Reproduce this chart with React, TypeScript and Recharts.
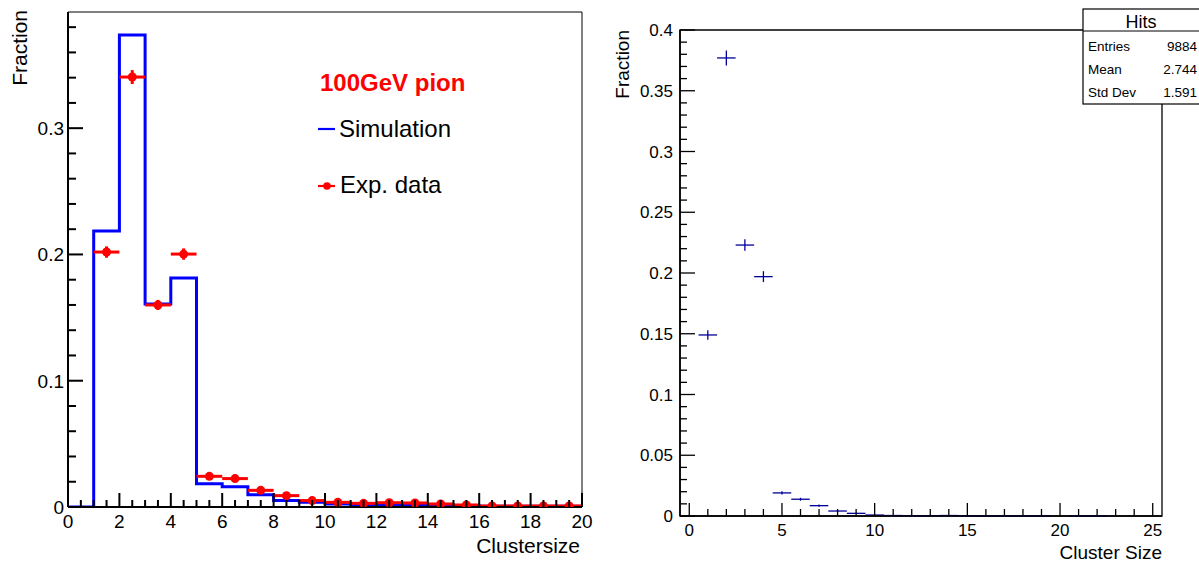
import React from 'react';
import { ComposedChart, Line, Scatter, XAxis, YAxis, ErrorBar, ReferenceArea } from 'recharts';

const FONT = '"Liberation Sans", Arial, Helvetica, sans-serif';

// ---------- Left panel: simulation vs experiment ----------
const simBinLow = [0, 1, 2, 3, 4, 5, 6, 7, 8, 9, 10, 11, 12, 13, 14, 15, 16, 17, 18, 19];
const simValues = [0, 0.2185, 0.3737, 0.1607, 0.1813, 0.0185, 0.0161, 0.0098, 0.0051, 0.0037, 0.0024, 0.002, 0.002, 0.0019, 0.0016, 0.0011, 0.0006, 0.0005, 0.0005, 0.0005];
const simLastEdge = 20;

const expCenters = [1.5, 2.5, 3.5, 4.5, 5.5, 6.5, 7.5, 8.5, 9.5, 10.5, 11.5, 12.5, 13.5, 14.5, 15.5, 16.5, 17.5, 18.5, 19.5];
const expValues = [0.2019, 0.3405, 0.16, 0.2003, 0.0243, 0.0225, 0.0132, 0.009, 0.0051, 0.0037, 0.0029, 0.0034, 0.0032, 0.0024, 0.0016, 0.0008, 0.0008, 0.0008, 0.0008];
const expYErr = [0.0045, 0.0055, 0.004, 0.0045, 0.0015, 0.0015, 0.001, 0.001, 0.0008, 0.0006, 0.0005, 0.0005, 0.0005, 0.0005, 0.0004, 0.0003, 0.0003, 0.0003, 0.0003];
const expXErr = 0.5;

const LEFT_X_DOMAIN = [0, 20];
const LEFT_Y_MAX = 0.392;
const leftXMajor = [0, 2, 4, 6, 8, 10, 12, 14, 16, 18, 20];
const leftXLabels = ['0', '2', '4', '6', '8', '10', '12', '14', '16', '18', '20'];
const leftYMajor = [0, 0.1, 0.2, 0.3];
const leftYLabels = ['0', '0.1', '0.2', '0.3'];
const leftXMinorStep = 0.5;
const leftYMinorStep = 0.02;

// ---------- Right panel: hits ----------
const hitsX = [1, 2, 3, 4, 5, 6, 7, 8, 9, 10, 11, 12, 13, 14, 15, 16, 17, 18, 19, 21, 22];
const hitsValues = [0.149, 0.377, 0.223, 0.197, 0.019, 0.0138, 0.0085, 0.0041, 0.0022, 0.0008, 0.0004, 0.0003, 0.0003, 0.0004, 0.0002, 0.0001, 0.0001, 0.0001, 0.0001, 0.0001, 0.0001];
const hitsYErr = [0.0039, 0.0062, 0.0047, 0.0045, 0.0014, 0.0012, 0.0009, 0.0006, 0.0005, 0.0003, 0.0002, 0.0002, 0.0002, 0.0002, 0.0001, 0.0001, 0.0001, 0.0001, 0.0001, 0.0001, 0.0001];
const hitsXErr = 0.5;

const RIGHT_X_DOMAIN = [-0.5, 25.5];
const RIGHT_Y_MAX = 0.4;
const rightXMajor = [0, 5, 10, 15, 20, 25];
const rightXLabels = ['0', '5', '10', '15', '20', '25'];
const rightYMajor = [0, 0.05, 0.1, 0.15, 0.2, 0.25, 0.3, 0.35, 0.4];
const rightYLabels = ['0', '0.05', '0.1', '0.15', '0.2', '0.25', '0.3', '0.35', '0.4'];
const rightXMinorStep = 1;
const rightYMinorStep = 0.01;

const statsTitle = 'Hits';
const statsNames = ['Entries', 'Mean', 'Std Dev'];
const statsValues = ['9884', '2.744', '1.591'];

// ---------- derived tables ----------
const simStep = simBinLow.map((x, i) => ({ x, y: simValues[i] })).concat([{ x: simLastEdge, y: simValues[simValues.length - 1] }]);
const expData = expCenters.map((x, i) => ({ x, y: expValues[i], ex: expXErr, ey: expYErr[i] }));
const hitsData = hitsX.map((x, i) => ({ x, y: hitsValues[i], ex: hitsXErr, ey: hitsYErr[i] }));

function range(lo: number, hi: number, step: number): number[] {
  const out: number[] = [];
  const n = Math.round((hi - lo) / step);
  for (let i = 0; i <= n; i++) out.push(Math.round((lo + i * step) * 1e6) / 1e6);
  return out;
}
const leftXTicks = range(0, 20, leftXMinorStep);
const leftYTicks = range(0, 0.38, leftYMinorStep);
const rightXTicks = range(0, 25, rightXMinorStep);
const rightYTicks = range(0, 0.4, rightYMinorStep);

function findMajor(majors: number[], v: number) {
  return majors.findIndex((m) => Math.abs(m - v) < 1e-7);
}

function makeYTick(majors: number[], labels: string[], majorLen: number, minorLen: number, fs: number, sw: number, gap: number) {
  return (props: any) => {
    const { x, y, payload } = props;
    const idx = findMajor(majors, payload.value);
    const isMajor = idx >= 0;
    return (
      <g>
        <line x1={x} x2={x + (isMajor ? majorLen : minorLen)} y1={y} y2={y} stroke="#000" strokeWidth={sw} />
        {isMajor && (
          <text x={x - gap} y={y} dy="0.36em" textAnchor="end" fontSize={fs} fontFamily={FONT} fill="#000">
            {labels[idx]}
          </text>
        )}
      </g>
    );
  };
}

function makeXTick(majors: number[], labels: string[], majorLen: number, minorLen: number, fs: number, sw: number, base: number) {
  return (props: any) => {
    const { x, y, payload } = props;
    const idx = findMajor(majors, payload.value);
    const isMajor = idx >= 0;
    return (
      <g>
        <line x1={x} x2={x} y1={y} y2={y - (isMajor ? majorLen : minorLen)} stroke="#000" strokeWidth={sw} />
        {isMajor && (
          <text x={x} y={y + base} textAnchor="middle" fontSize={fs} fontFamily={FONT} fill="#000">
            {labels[idx]}
          </text>
        )}
      </g>
    );
  };
}

const leftXTick = makeXTick(leftXMajor, leftXLabels, 14, 7, 19, 2, 21);
const leftYTick = makeYTick(leftYMajor, leftYLabels, 15, 8, 19, 2, 4);
const rightXTick = makeXTick(rightXMajor, rightXLabels, 13, 7, 17, 1.3, 20);
const rightYTick = makeYTick(rightYMajor, rightYLabels, 15, 7, 17, 1.3, 7);

const redDot = (props: any) => <circle cx={props.cx} cy={props.cy} r={4.5} fill="#ff0000" />;
const noMark = () => <g />;

export default function App() {
  return (
    <div style={{ position: 'absolute', left: 0, top: 0, width: 1199, height: 563, background: '#fff', overflow: 'hidden' }}>
      <div style={{ position: 'absolute', left: 0, top: 0 }}>
        <ComposedChart width={600} height={563} margin={{ top: 12, right: 18, bottom: 0, left: 0 }}>
          <XAxis
            type="number"
            dataKey="x"
            domain={LEFT_X_DOMAIN}
            ticks={leftXTicks}
            interval={0}
            tickSize={0}
            tickMargin={0}
            height={56}
            allowDataOverflow
            tickLine={false}
            axisLine={{ stroke: '#000', strokeWidth: 2 }}
            tick={leftXTick}
          />
          <YAxis
            type="number"
            dataKey="y"
            domain={[0, LEFT_Y_MAX]}
            ticks={leftYTicks}
            interval={0}
            tickSize={0}
            tickMargin={0}
            width={68}
            allowDataOverflow
            tickLine={false}
            axisLine={{ stroke: '#000', strokeWidth: 2 }}
            tick={leftYTick}
          />
          <ReferenceArea x1={0} x2={20} y1={0} y2={LEFT_Y_MAX} fill="none" fillOpacity={0} stroke="#000" strokeWidth={1} ifOverflow="visible" />
          <Line data={simStep} dataKey="y" type="stepAfter" stroke="#0000ff" strokeWidth={3} dot={false} activeDot={false} isAnimationActive={false} />
          <Scatter data={expData} dataKey="y" fill="#ff0000" shape={redDot} isAnimationActive={false}>
            <ErrorBar dataKey="ex" direction="x" width={0} stroke="#ff0000" strokeWidth={3} isAnimationActive={false} />
            <ErrorBar dataKey="ey" direction="y" width={0} stroke="#ff0000" strokeWidth={3} isAnimationActive={false} />
          </Scatter>
        </ComposedChart>
      </div>
      <div style={{ position: 'absolute', left: 600, top: 0 }}>
        <ComposedChart width={599} height={563} margin={{ top: 30, right: 37, bottom: 0, left: 0 }}>
          <XAxis
            type="number"
            dataKey="x"
            domain={RIGHT_X_DOMAIN}
            ticks={rightXTicks}
            interval={0}
            tickSize={0}
            tickMargin={0}
            height={47}
            allowDataOverflow
            tickLine={false}
            axisLine={{ stroke: '#000', strokeWidth: 1.6 }}
            tick={rightXTick}
          />
          <YAxis
            type="number"
            dataKey="y"
            domain={[0, RIGHT_Y_MAX]}
            ticks={rightYTicks}
            interval={0}
            tickSize={0}
            tickMargin={0}
            width={80}
            allowDataOverflow
            tickLine={false}
            axisLine={{ stroke: '#000', strokeWidth: 1.6 }}
            tick={rightYTick}
          />
          <ReferenceArea x1={-0.5} x2={25.5} y1={0} y2={RIGHT_Y_MAX} fill="none" fillOpacity={0} stroke="#000" strokeWidth={1.3} ifOverflow="visible" />
          <Scatter data={hitsData} dataKey="y" fill="#000099" shape={noMark} isAnimationActive={false}>
            <ErrorBar dataKey="ex" direction="x" width={0} stroke="#000099" strokeWidth={1.3} isAnimationActive={false} />
            <ErrorBar dataKey="ey" direction="y" width={0} stroke="#000099" strokeWidth={1.3} isAnimationActive={false} />
          </Scatter>
        </ComposedChart>
      </div>
      <svg width={1199} height={563} style={{ position: 'absolute', left: 0, top: 0, pointerEvents: 'none' }} fontFamily={FONT}>
        {/* left panel titles */}
        <text transform="translate(27,10) rotate(-90)" textAnchor="end" fontSize={21} fill="#000">Fraction</text>
        <text x={580} y={553} textAnchor="end" fontSize={21} fill="#000">Clustersize</text>
        {/* legend */}
        <text x={320} y={91} fontSize={24} fontWeight="bold" fill="#ff0000">100GeV pion</text>
        <line x1={318} x2={335} y1={129} y2={129} stroke="#0000ff" strokeWidth={2.2} />
        <text x={339} y={137} fontSize={24} fill="#000">Simulation</text>
        <line x1={318} x2={335} y1={186} y2={186} stroke="#ff0000" strokeWidth={2.2} />
        <circle cx={327} cy={186} r={3.8} fill="#ff0000" />
        <text x={340} y={193} fontSize={24} fill="#000">Exp. data</text>
        {/* right panel titles */}
        <text transform="translate(629,30) rotate(-90)" textAnchor="end" fontSize={19} fill="#000">Fraction</text>
        <text x={1162} y={559} textAnchor="end" fontSize={19} fill="#000">Cluster Size</text>
        {/* stats box */}
        <rect x={1083} y={9} width={125} height={95} fill="#fff" stroke="#000" strokeWidth={1.2} />
        <line x1={1083} x2={1199} y1={31} y2={31} stroke="#000" strokeWidth={1.2} />
        <text x={1141} y={28} textAnchor="middle" fontSize={18} fill="#000">{statsTitle}</text>
        {statsNames.map((n, i) => (
          <g key={n}>
            <text x={1088} y={51 + i * 23} fontSize={13.5} fill="#000">{n}</text>
            <text x={1197} y={51 + i * 23} textAnchor="end" fontSize={13.5} fill="#000">{statsValues[i]}</text>
          </g>
        ))}
      </svg>
    </div>
  );
}
